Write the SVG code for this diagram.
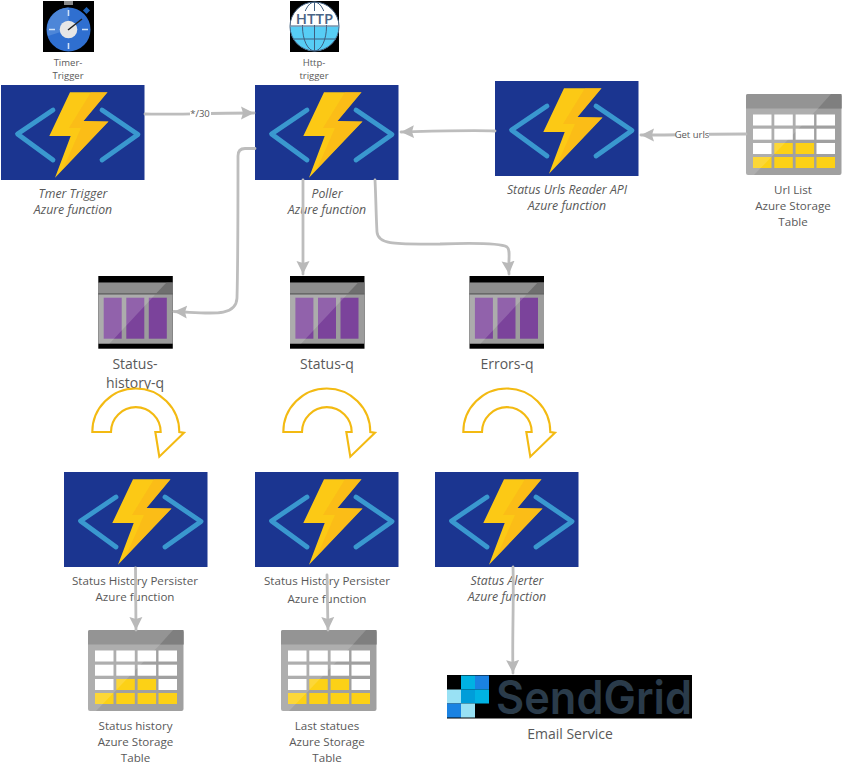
<svg xmlns="http://www.w3.org/2000/svg" width="843" height="773" viewBox="0 0 843 773">
<style>
text{font-family:"Open Sans","Noto Sans","Liberation Sans",sans-serif;fill:#595959;text-anchor:middle;font-size:11.6px}
.i{font-style:italic;font-size:12.3px}
.s{font-size:9.5px}
.l{font-size:14px}
.c{fill:none;stroke:#bdbdbd;stroke-width:2.8;stroke-linecap:round;stroke-linejoin:round;marker-end:url(#a)}
.w{fill:#fff}
.y{fill:#fcd116}
</style>
<defs>
<marker id="a" markerUnits="userSpaceOnUse" markerWidth="15" markerHeight="15" refX="13" refY="7" orient="auto"><path d="M0,0.5 L13,7 L0,13.500 L2,7 Z" fill="#b9b9b9"/></marker>
<symbol id="func" width="144" height="96" viewBox="0 0 144 96" overflow="visible">
<rect width="143.500" height="95" fill="#1b3590"/>
<path d="M52,25 L16.500,49 L52,75 M101,25 L137,49.500 L101,75" fill="none" stroke="#3a98cf" stroke-width="4.800" stroke-linecap="round" stroke-linejoin="round"/>
<path d="M69,7.300 L106.500,7.300 L82.500,36 L107.500,36.500 L54,92.700 L69.700,51 L48.300,51 Z" fill="#fcc915"/>
<path d="M90,7.300 L106.500,7.300 L82.500,36 L107.500,36.500 L62,84 L80,43 L68,43 Z" fill="#f9b21a" opacity=".55"/>
</symbol>
<symbol id="table" width="96" height="82" viewBox="0 0 96 82" overflow="visible">
<rect width="95.500" height="81" rx="2" fill="#a0a0a0"/>
<path d="M0,2 Q0,0 2,0 L93.500,0 Q95.500,0 95.500,2 L95.500,14.500 L0,14.500 Z" fill="#949494"/>
<path d="M95.500,0 L95.500,14.500 L72,14.500 L85,0 Z" fill="#7f7f7f"/>
<g class="w">
<rect x="7" y="20.500" width="18.500" height="11"/><rect x="28.300" y="20.500" width="18.500" height="11"/><rect x="49.600" y="20.500" width="18.500" height="11"/><rect x="70.500" y="20.500" width="18.500" height="11"/>
<rect x="7" y="34.700" width="18.500" height="11"/><rect x="28.300" y="34.700" width="18.500" height="11"/><rect x="49.600" y="34.700" width="18.500" height="11"/><rect x="70.500" y="34.700" width="18.500" height="11"/>
<rect x="7" y="49" width="18.500" height="11"/><rect x="70.500" y="49" width="18.500" height="11"/>
</g>
<g class="y">
<rect x="28.300" y="49" width="18.500" height="11"/><rect x="49.600" y="49" width="18.500" height="11"/>
<rect x="7" y="63" width="18.500" height="11"/><rect x="28.300" y="63" width="18.500" height="11"/><rect x="49.600" y="63" width="18.500" height="11"/><rect x="70.500" y="63" width="18.500" height="11"/>
</g>
<path d="M0,14.500 L72,14.500 L8,81 L0,81 Z" fill="#fff" opacity=".15"/>
</symbol>
<symbol id="queue" width="75" height="73" viewBox="0 0 75 73" overflow="visible">
<rect width="74.500" height="72.700" fill="#000"/>
<rect y="6.700" width="74.500" height="61" fill="#9c9c9c"/>
<rect y="6.700" width="74.500" height="10.500" fill="#8e8e8e"/>
<path d="M74.500,6.700 L74.500,17.200 L58,17.200 L68,6.700 Z" fill="#6f6f6f"/>
<rect x="5.400" y="21.700" width="18" height="41" fill="#7b439b"/>
<rect x="28" y="21.700" width="18" height="41" fill="#7b439b"/>
<rect x="50.500" y="21.700" width="18" height="41" fill="#7b439b"/>
<path d="M0,18.500 L57,18.500 L11,67.700 L0,67.700 Z" fill="#fff" opacity=".17"/>
<rect y="17.200" width="74.500" height="1.300" fill="#5e5e5e"/>
</symbol>
<path id="turn" d="M92.300,432 A43.500,43.500 0 0 1 179.300,432 L184,432.700 L159.300,456.700 L155.300,432 L160.700,432 A24.850,24.850 0 0 0 111,432 Z" fill="#fff" stroke="#f3ba12" stroke-width="2.100" stroke-linejoin="miter"/>
</defs>

<g id="timer-icon">
<rect x="43" y="1" width="51" height="51" fill="#000"/>
<rect x="64" y="1" width="9" height="4" fill="#8a8a8a"/>
<rect x="84" y="8" width="5" height="5" fill="#1f63b8" transform="rotate(45 86.500 10.500)"/>
<circle cx="68.500" cy="29.500" r="22" fill="#2f6fd0"/>
<path d="M68.500,29.500 L48,36 A22,22 0 0 1 68.500,7.500 Z" fill="#4d86d8"/>
<path d="M68.500,10 V16 M68.500,43 V49 M49,29.500 H55 M82,29.500 H88" stroke="#cfe2f7" stroke-width="1.600"/>
<circle cx="68.500" cy="29.500" r="8.800" fill="#e6e6e6"/>
<path d="M68,30 L82,19" stroke="#222" stroke-width="1.500"/>
</g>
<text class="s" x="68" y="66">Timer-</text>
<text class="s" x="68" y="79">Trigger</text>

<g id="http-icon">
<rect x="290" y="1" width="49" height="51" fill="#000"/>
<circle cx="314.500" cy="26.500" r="24.500" fill="#fff"/>
<path d="M290,26.500 H339 A24.500,24.500 0 0 1 290,26.500 Z" fill="#57cdf5"/>
<path d="M290.500,26 H338.500 M294,39 H335" stroke="#3f5e80" stroke-width="1.200" fill="none"/>
<path d="M314.500,2 V51" stroke="#3f5e80" stroke-width="1" fill="none"/>
<ellipse cx="314.500" cy="26.500" rx="12" ry="24.500" fill="none" stroke="#3f5e80" stroke-width="1"/>
<circle cx="314.500" cy="26.500" r="24.500" fill="none" stroke="#3f5e80" stroke-width="1"/>
<rect x="297" y="11" width="35" height="14" fill="#fff"/>
<text x="314.500" y="24" style="font-size:15px;font-weight:600;fill:#4a6486">HTTP</text>
</g>
<text class="s" x="314" y="66">Http-</text>
<text class="s" x="314" y="79">trigger</text>

<g id="timer-trigger"><use href="#func" x="1" y="85"/><text class="i" x="73" y="198">Tmer Trigger</text><text class="i" x="73" y="214">Azure function</text></g>
<g id="poller"><use href="#func" x="255" y="85"/><text class="i" x="327" y="198">Poller</text><text class="i" x="327" y="214">Azure function</text></g>
<g id="urls-reader"><use href="#func" x="495" y="81"/><text class="i" x="567" y="194">Status Urls Reader API</text><text class="i" x="567" y="210">Azure function</text></g>
<g id="url-list"><use href="#table" x="746" y="94"/><text x="793" y="194">Url List</text><text x="793" y="210">Azure Storage</text><text x="793" y="226">Table</text></g>

<g id="status-history-q"><use href="#queue" x="98.300" y="276"/><text class="l" x="135" y="369">Status-</text><text class="l" x="135" y="388">history-q</text></g>
<g id="status-q"><use href="#queue" x="290" y="276"/><text class="l" x="327" y="369">Status-q</text></g>
<g id="errors-q"><use href="#queue" x="469.500" y="276"/><text class="l" x="507" y="369">Errors-q</text></g>

<g id="turn-1"><use href="#turn"/></g>
<g id="turn-2"><use href="#turn" x="191"/></g>
<g id="turn-3"><use href="#turn" x="371"/></g>

<g id="history-persister"><use href="#func" x="64" y="472"/><text x="135" y="585">Status History Persister</text><text x="135" y="601">Azure function</text></g>
<g id="last-persister"><use href="#func" x="255" y="472"/><text x="327" y="585">Status History Persister</text><text x="327" y="603">Azure function</text></g>
<g id="alerter"><use href="#func" x="435" y="472"/><text class="i" x="507" y="585">Status Alerter</text><text class="i" x="507" y="601">Azure function</text></g>

<g id="status-history"><use href="#table" x="88" y="630"/><text x="135.500" y="730">Status history</text><text x="135.500" y="746">Azure Storage</text><text x="135.500" y="762">Table</text></g>
<g id="last-statues"><use href="#table" x="281" y="630"/><text x="327" y="730">Last statues</text><text x="327" y="746">Azure Storage</text><text x="327" y="762">Table</text></g>

<g id="sendgrid">
<rect x="447" y="675" width="245" height="43.500" fill="#000"/>
<rect x="461" y="675.500" width="14" height="14" fill="#00b2e3"/><rect x="475" y="675.500" width="14" height="14" fill="#1a82e2"/>
<rect x="447" y="689.500" width="14" height="14" fill="#99e1f4"/><rect x="461" y="689.500" width="14" height="14" fill="#009dd9"/><rect x="475" y="689.500" width="14" height="14" fill="#00b2e3"/>
<rect x="447" y="703.500" width="14" height="14" fill="#1a82e2"/><rect x="461" y="703.500" width="14" height="14" fill="#99e1f4"/>
<text x="496" y="714" textLength="196" lengthAdjust="spacingAndGlyphs" style="font-family:Inter,'Liberation Sans',sans-serif;font-size:46px;font-weight:600;fill:#2a3b4a;text-anchor:start">SendGrid</text>
<text class="l" x="570" y="739">Email Service</text>
</g>

<g id="connectors">
<path class="c" d="M145,114 C170,115 200,113 254,113"/>
<path class="c" d="M495,131 C470,130 440,131 401,132"/>
<path class="c" d="M746,134 C710,134 680,135 641,135"/>
<path class="c" d="M255,148.500 L245,148.500 Q238,148.500 238,156 C238,200 238,260 237,298 C236,318 210,313 174,311.500"/>
<path class="c" d="M303,180 C303,210 303,240 303,274"/>
<path class="c" d="M375,180 C376,200 376,215 377,232 C378,246 400,244 440,244 C470,243 500,243 507,247 C511,250 508,260 509,274"/>
<path class="c" d="M135.500,568 L136,630"/>
<path class="c" d="M327,575 L328,630"/>
<path class="c" d="M513,567 C514,600 512,640 513,673"/>
<rect x="190" y="107" width="21" height="13" fill="#fff"/>
<text class="s" x="200" y="116.500">*/30</text>
<rect x="676" y="128" width="33" height="13" fill="#fff"/>
<text class="s" x="692" y="138">Get urls</text>
</g>
</svg>
